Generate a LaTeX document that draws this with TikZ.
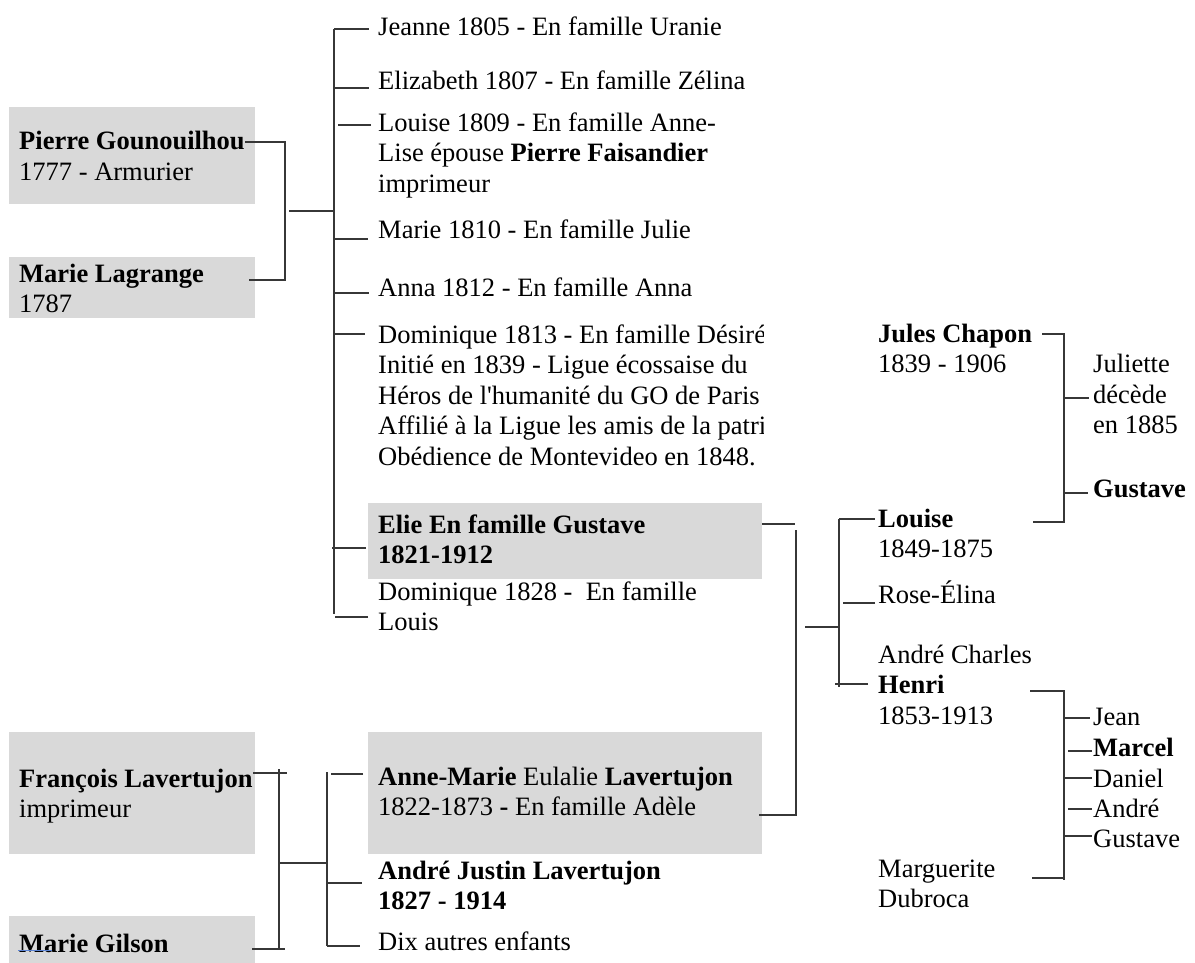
\documentclass[tikz,border=0pt]{standalone}
\usepackage{fontspec}
\newfontfamily\timesfont{Liberation Serif}
\definecolor{boxgray}{RGB}{217,217,217}
\definecolor{lingray}{RGB}{55,55,55}
\definecolor{linkblue}{RGB}{90,130,210}
\newcommand{\mlines}[1]{\begin{tabular}[t]{@{}l@{}}#1\end{tabular}}
\begin{document}
\begin{tikzpicture}[x=1pt,y=-1pt,
  txt/.style={anchor=base west, inner sep=0pt, font=\timesfont\fontsize{26.5}{30.5}\selectfont},
  graybox/.style={anchor=north west, fill=boxgray, draw=none, inner sep=0pt},
  ln/.style={draw=lingray, line width=1.2pt}]
\useasboundingbox (0,0) rectangle (1195,963);

% ---------- gray boxes ----------
\node[graybox, minimum width=246pt, minimum height=97pt] (boxPierre) at (9,107) {};
\node[graybox, minimum width=246pt, minimum height=61pt] (boxMarieL) at (9,257) {};
\node[graybox, minimum width=394pt, minimum height=76pt] (boxElie) at (368,503) {};
\node[graybox, minimum width=394pt, minimum height=122pt] (boxAnne) at (368,732) {};
\node[graybox, minimum width=246pt, minimum height=122pt] (boxFrancois) at (9,732) {};
\node[graybox, minimum width=246pt, minimum height=47pt] (boxGilson) at (9,916) {};

% ---------- texts ----------
\node[txt] (tPierre) at (19,150) {\mlines{\textbf{Pierre Gounouilhou}\\1777 - Armurier}};
\node[txt] (tMarieL) at (19,282) {\mlines{\textbf{Marie Lagrange}\\1787}};
\node[txt] (tJeanne) at (378,36) {Jeanne 1805 - En famille Uranie};
\node[txt] (tEliz) at (378,90) {Elizabeth 1807 - En famille Zélina};
\node[txt] (tLouise) at (378,131.5) {\mlines{Louise 1809 - En famille Anne-\\Lise épouse \textbf{Pierre Faisandier}\\imprimeur}};
\node[txt] (tMarie) at (378,238) {Marie 1810 - En famille Julie};
\node[txt] (tAnna) at (378,296) {Anna 1812 - En famille Anna};
\begin{scope}
\clip (0,0) rectangle (763,963);
\node[txt] (tDom) at (378,343) {\mlines{Dominique 1813 - En famille Désiré\\Initié en 1839 - Ligue écossaise du\\Héros de l'humanité du GO de Paris\\Affilié à la Ligue les amis de la patrie\\Obédience de Montevideo en 1848.}};
\end{scope}
\node[txt] (tElie) at (378,533) {\mlines{\textbf{Elie En famille Gustave}\\\textbf{1821-1912}}};
\node[txt] (tDom2) at (378,600) {\mlines{Dominique 1828 -\ \ En famille\\Louis}};

\node[txt] (tFrancois) at (19,787) {\mlines{\textbf{François Lavertujon}\\imprimeur}};
\node[txt] (tGilson) at (19,952) {\textbf{Marie Gilson}};
\node[txt] (tAnne) at (378,785) {\mlines{\textbf{Anne-Marie} Eulalie \textbf{Lavertujon}\\1822-1873 \textbf{-} En famille Adèle}};
\node[txt] (tAndre) at (378,879) {\mlines{\textbf{André Justin Lavertujon}\\\textbf{1827 - 1914}}};
\node[txt] (tDix) at (378,950) {Dix autres enfants};

\node[txt] (tJules) at (878,342) {\mlines{\textbf{Jules Chapon}\\1839 - 1906}};
\node[txt] (tJuliette) at (1093,372.5) {\mlines{Juliette\\décède\\en 1885}};
\node[txt] (tGust1) at (1093,497) {\textbf{Gustave}};
\node[txt] (tLouise2) at (878,527) {\mlines{\textbf{Louise}\\1849-1875}};
\node[txt] (tRose) at (878,603) {Rose-Élina};
\node[txt] (tHenri) at (878,663) {\mlines{André Charles\\\textbf{Henri}\\1853-1913}};
\node[txt] (tMarg) at (878,877) {\mlines{Marguerite\\Dubroca}};
\node[txt] (tJean) at (1093,725) {Jean};
\node[txt] (tMarcel) at (1093,756) {\textbf{Marcel}};
\node[txt] (tDaniel) at (1093,787) {Daniel};
\node[txt] (tAndre2) at (1093,817) {André};
\node[txt] (tGust2) at (1093,847) {Gustave};

% ---------- connectors : Gounouilhou ----------
\coordinate (gA) at (245,142);
\coordinate (gB) at (285,142);
\coordinate (gC) at (285,280);
\coordinate (gD) at (249,280);
\draw[ln] (gA) -- (gB) -- (gC) -- (gD);
\coordinate (gM1) at (289,211);
\coordinate (gM2) at (334,211);
\draw[ln] (gM1) -- (gM2);
\coordinate (tr1) at (334,29);
\coordinate (tr2) at (334,614);
\draw[ln] (tr1) -- (tr2);
\coordinate (bJeanne) at (369,29);
\coordinate (bEliz) at (369,88);
\coordinate (bLouise) at (371,125);
\coordinate (bMarie) at (368,239);
\coordinate (bAnna) at (369,293);
\coordinate (bDom) at (365,334);
\coordinate (bElie) at (366,548);
\coordinate (bDom2) at (368,617);
\draw[ln] (tr1 |- bJeanne) -- (bJeanne);
\draw[ln] (tr1 |- bEliz) -- (bEliz);
\draw[ln] (bLouise) -- ++(-33,0);
\draw[ln] (tr1 |- bMarie) -- (bMarie);
\draw[ln] (tr1 |- bAnna) -- (bAnna);
\draw[ln] (tr1 |- bDom) -- (bDom);
\draw[ln] (bElie) -- ++(-34,0);
\draw[ln] (bDom2) -- ++(-33,0);

% ---------- connectors : Lavertujon ----------
\coordinate (lA) at (253,773);
\coordinate (lB) at (287,773);
\coordinate (lV1) at (279,769);
\coordinate (lV2) at (279,948);
\coordinate (lC) at (252,949);
\coordinate (lD) at (285,949);
\draw[ln] (lA) -- (lB);
\draw[ln] (lV1) -- (lV2);
\draw[ln] (lC) -- (lD);
\coordinate (lM1) at (279,863);
\coordinate (lM2) at (327,863);
\draw[ln] (lM1) -- (lM2);
\coordinate (lT1) at (327,772);
\coordinate (lT2) at (327,946);
\draw[ln] (lT1) -- (lT2);
\coordinate (bAnne) at (363,774);
\coordinate (bAndre) at (362,883);
\coordinate (bDix) at (360,946);
\draw[ln] (bAnne) -- ++(-32,0);
\draw[ln] (lT1 |- bAndre) -- (bAndre);
\draw[ln] (lT1 |- bDix) -- (bDix);
\coordinate (u1) at (18,950);
\coordinate (u2) at (52,950);
\draw[draw=linkblue, line width=0.8pt] (u1) -- (u2);

% ---------- connectors : right part ----------
\coordinate (rA) at (762,524);
\coordinate (rB) at (795,524);
\draw[ln] (rA) -- (rB);
\coordinate (rV1) at (796,530);
\coordinate (rV2) at (796,815);
\coordinate (rC) at (759,815);
\draw[ln] (rV1) -- (rV2) -- (rC);
\coordinate (rM1) at (805,627);
\coordinate (rM2) at (839,627);
\draw[ln] (rM1) -- (rM2);
\coordinate (rT1) at (839,519);
\coordinate (rT2) at (839,687);
\draw[ln] (rT1) -- (rT2);
\coordinate (bLouise2) at (875,519);
\coordinate (bRose) at (875,603);
\coordinate (bHenri) at (868,684);
\draw[ln] (rT1) -- (bLouise2);
\draw[ln] (bRose) -- ++(-32,0);
\draw[ln] (bHenri) -- ++(-33,0);

% Jules Chapon
\coordinate (jA) at (1042,334);
\coordinate (jB) at (1064,334);
\coordinate (jC) at (1064,522);
\coordinate (jD) at (1033,522);
\draw[ln] (jA) -- (jB) -- (jC) -- (jD);
\coordinate (bJuliette) at (1089,398);
\coordinate (bGust1) at (1088,493);
\draw[ln] (jB |- bJuliette) -- (bJuliette);
\draw[ln] (jB |- bGust1) -- (bGust1);

% Henri
\coordinate (hA) at (1030,691);
\coordinate (hB) at (1064,691);
\coordinate (hC) at (1064,880);
\draw[ln] (hA) -- (hB) -- (hC);
\coordinate (hD) at (1032,878);
\draw[ln] (hD) -- (hC |- hD);
\coordinate (bJean) at (1090,718);
\coordinate (bMarcel) at (1092,751);
\coordinate (bDaniel) at (1092,778);
\coordinate (bAndre2) at (1092,809);
\coordinate (bGust2) at (1092,836);
\draw[ln] (hB |- bJean) -- (bJean);
\draw[ln] (bMarcel) -- ++(-24,0);
\draw[ln] (hB |- bDaniel) -- (bDaniel);
\draw[ln] (bAndre2) -- ++(-24,0);
\draw[ln] (hB |- bGust2) -- (bGust2);
\end{tikzpicture}
\end{document}
